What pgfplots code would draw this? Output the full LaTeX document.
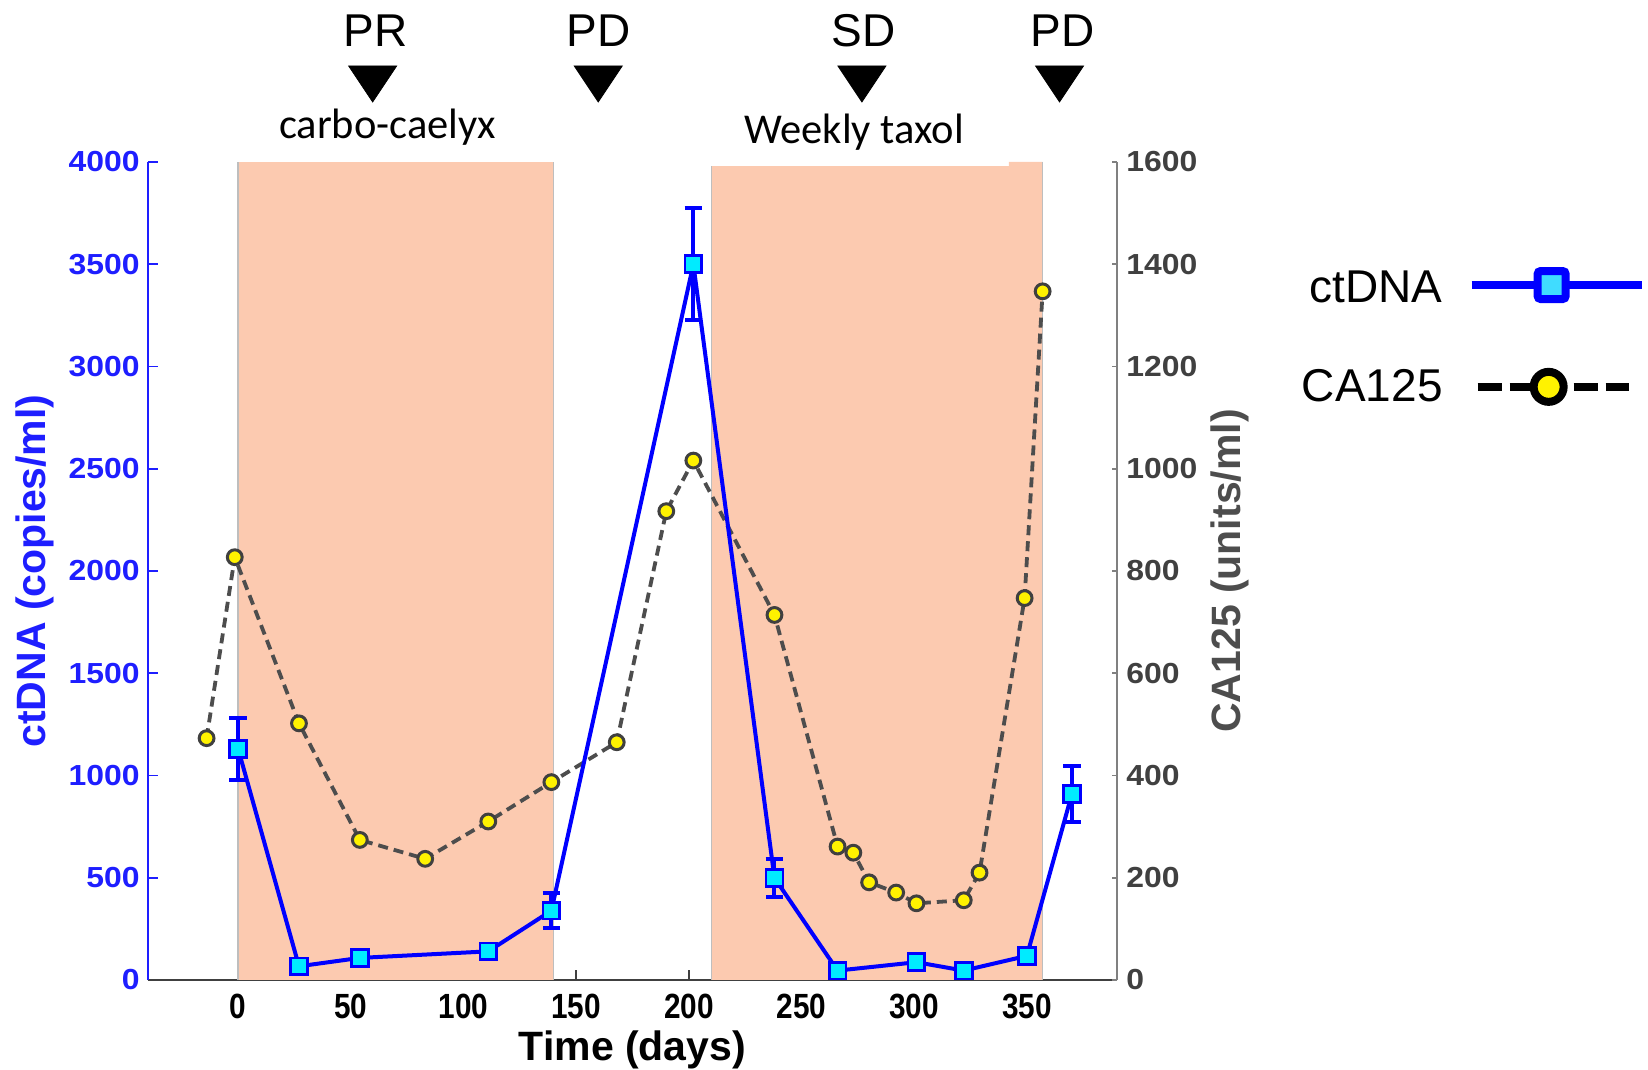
\documentclass[border=0pt]{standalone}
\usepackage{fontspec}
\setmainfont{Liberation Sans}
\newfontfamily\carlito{Carlito}
\newfontfamily\widesans[FakeStretch=1.1]{Liberation Sans}
\newfontfamily\narrowsans[FakeStretch=0.85]{Liberation Sans}
\usepackage{pgfplots}
\usepackage{pgfplotstable}
\pgfplotsset{compat=1.18}
\definecolor{peach}{RGB}{252,202,176}
\definecolor{myblue}{RGB}{0,0,255}
\definecolor{lblue}{RGB}{30,30,255}
\definecolor{mycyan}{RGB}{0,235,255}
\definecolor{lcyan}{RGB}{64,220,255}
\definecolor{dgray}{RGB}{64,64,64}
\definecolor{mgray}{RGB}{77,77,77}
\definecolor{agray}{RGB}{128,128,128}
\definecolor{egray}{RGB}{190,190,190}

\pgfplotstableread{
x y e
0 1130 150
27 67 0
54 108 20
111 140 20
139 339 85
202 3500 275
238 499 95
266 46 0
301 87 0
322 46 0
350 118 25
370 910 137
}\ctdna

\pgfplotstableread{
x y
-14 473
-1.5 827
27 502
54 274
83 237
111 310
139 387
168 465
190 917
202 1016
238 714
266 261
273 249
280 191
292 171
301 150
322 156
329 210
349 747
357 1347
}\catable

\pgfplotsset{base/.style={scale only axis, width=484.5pt, height=409pt, xmin=-40, xmax=390, clip=false}}

\begin{document}
\begin{tikzpicture}
\useasboundingbox (-74pt,-45pt) rectangle (750pt,490pt);

% Axis A: left y axis, bottom x axis, annotations
\begin{axis}[base, ymin=0, ymax=4000,
  axis x line=bottom, axis y line=left,
  x axis line style={-, draw=dgray, line width=1pt},
  y axis line style={-, draw=lblue, line width=0.8pt},
  xtick align=inside, ytick align=inside,
  xtick={0,50,...,350}, ytick={0,500,...,4000},
  major tick length=5pt,
  xtick style={draw=dgray, line width=0.8pt},
  ytick style={draw=lblue, line width=0.8pt},
  /pgf/number format/1000 sep={},
  /pgf/number format/assume math mode=true,
  xticklabel style={font=\narrowsans\fontsize{17.5}{17.5}\selectfont\bfseries, anchor=base, yshift=-19pt, inner sep=0pt},
  yticklabel style={font=\widesans\fontsize{14.5}{14.5}\selectfont\bfseries, text=lblue, anchor=east, inner sep=0pt, xshift=-4pt},
  xlabel={Time (days)}, ylabel={ctDNA (copies/ml)},
  xlabel style={font=\fontsize{20.5}{20.5}\selectfont\bfseries, at={(axis description cs:0.5,-0.085)}, anchor=center},
  ylabel style={font=\fontsize{20.5}{20.5}\selectfont\bfseries, text=lblue, at={(axis description cs:-0.1166,0.5)}, anchor=center},
]
\addplot[only marks, mark=triangle*, mark size=13.86pt, mark options={rotate=180, yscale=0.866, fill=black, draw=none}]
  coordinates {(59.7,4411) (159.8,4411) (276.8,4411) (364.5,4411)};
\node[anchor=base, font=\fontsize{23}{23}\selectfont, inner sep=0pt] at (axis cs:61,4567) {PR};
\node[anchor=base, font=\fontsize{23}{23}\selectfont, inner sep=0pt] at (axis cs:160,4567) {PD};
\node[anchor=base, font=\fontsize{23}{23}\selectfont, inner sep=0pt] at (axis cs:277.7,4567) {SD};
\node[anchor=base, font=\fontsize{23}{23}\selectfont, inner sep=0pt] at (axis cs:366,4567) {PD};
\node[anchor=base, font=\carlito\fontsize{21.25}{21.25}\selectfont, inner sep=0pt] at (axis cs:66.3,4114) {carbo-caelyx};
\node[anchor=base, font=\carlito\fontsize{21.25}{21.25}\selectfont, inner sep=0pt] at (axis cs:273.3,4089) {Weekly taxol};
\end{axis}

% Axis B: right y axis, shading, CA125
\begin{axis}[base, ymin=0, ymax=1600,
  hide x axis, axis y line=right,
  y axis line style={-, draw=agray, line width=1pt},
  ytick align=inside,
  ytick={0,200,...,1600},
  major tick length=2.5pt,
  ytick style={draw=agray, line width=0.8pt},
  /pgf/number format/1000 sep={},
  /pgf/number format/assume math mode=true,
  yticklabel style={font=\widesans\fontsize{14.5}{14.5}\selectfont\bfseries, text=dgray, anchor=west, inner sep=0pt, xshift=4.5pt},
  ylabel={CA125 (units/ml)},
  ylabel style={font=\fontsize{20.5}{20.5}\selectfont\bfseries, text=mgray, at={(axis description cs:1.1166,0.5)}, anchor=center, rotate=0},
]
\addplot[fill=peach, draw=none] coordinates {(0,0) (0,1600) (140,1600) (140,0)} -- cycle;
\addplot[fill=peach, draw=none] coordinates {(210,0) (210,1592) (342,1592) (342,1600) (357,1600) (357,0)} -- cycle;
\addplot[egray, line width=0.75pt] coordinates {(0,0) (0,1600)};
\addplot[egray, line width=0.75pt] coordinates {(140,0) (140,1600)};
\addplot[egray, line width=0.75pt] coordinates {(210,0) (210,1592)};
\addplot[egray, line width=0.75pt] coordinates {(357,0) (357,1600)};
\addplot[mgray, line width=1.9pt, dash pattern=on 5pt off 3pt, mark=*, mark size=3.7pt,
  mark options={solid, draw=dgray, fill=yellow, line width=1.5pt}] table[x=x, y=y] {\catable};
\end{axis}

% Axis C: ctDNA on top, legend
\begin{axis}[base, ymin=0, ymax=4000, hide x axis, hide y axis,
  legend plot pos=right, legend cell align=right,
  legend style={at={(1.1909,0.8716)}, anchor=north west, draw=none, fill=none, inner sep=0pt, outer sep=0pt,
    nodes={inner sep=0pt, outer sep=0pt, font=\fontsize{23}{23}\selectfont}, column sep=12.5pt, row sep=31pt},
]
\addplot[myblue, line width=2pt, mark=square*, mark size=4.2pt,
  mark options={solid, draw=myblue, fill=mycyan, line width=1.35pt},
  legend image code/.code={
    \draw[myblue, line width=4pt] (0pt,1.75pt) -- (85pt,1.75pt);
    \draw[myblue, fill=lcyan, line width=4pt, rounded corners=1.5pt] (33pt,-5.25pt) rectangle (47pt,8.75pt);
  },
  error bars/.cd, y dir=both, y explicit,
  error bar style={line width=2pt, myblue},
  error mark options={rotate=90, mark size=4.4pt, line width=2pt, myblue}]
  table[x=x, y=y, y error=e] {\ctdna};
\addlegendentry{ctDNA}
\addlegendimage{legend image code/.code={
    \draw[black, line width=4pt, dash pattern=on 12pt off 4pt] (3pt,0.15pt) -- (78.5pt,0.15pt);
    \draw[black, fill=yellow, line width=4pt] (38.5pt,0.15pt) circle (7.5pt);
  }}
\addlegendentry{CA125}
\end{axis}
\end{tikzpicture}
\end{document}
